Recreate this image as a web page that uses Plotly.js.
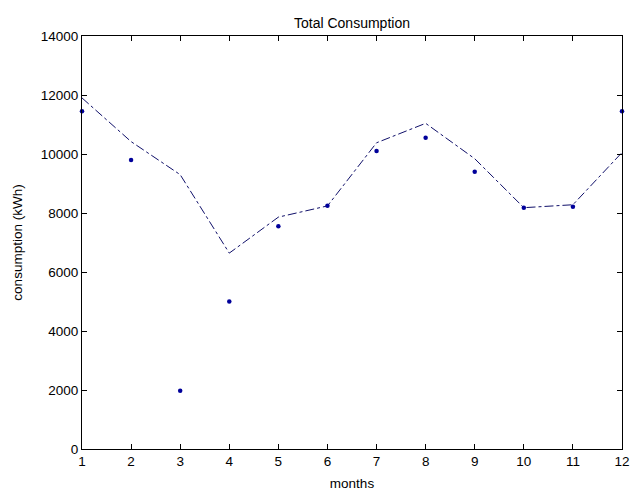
<!DOCTYPE html>
<html>
<head>
<meta charset="utf-8">
<script src="https://cdn.plot.ly/plotly-3.0.1.min.js"></script>
<style>html,body{margin:0;padding:0;background:#fff;}#chart{width:630px;height:491px;}</style>
</head>
<body>
<div id="chart"></div>
<script>
var months = [1, 2, 3, 4, 5, 6, 7, 8, 9, 10, 11, 12];
var measured = [11450, 9800, 1975, 5000, 7550, 8250, 10100, 10550, 9400, 8180, 8215, 11450];
var fitted = [11900, 10420, 9300, 6640, 7860, 8240, 10380, 11040, 9840, 8180, 8280, 10050];
var yTicks = [0, 2000, 4000, 6000, 8000, 10000, 12000, 14000];

var fam = 'Liberation Sans, Arial, sans-serif';

var traces = [
  {x: months, y: fitted, mode: 'lines', type: 'scatter',
   line: {color: '#10106a', width: 1, dash: 'dashdot'}, cliponaxis: false, hoverinfo: 'none'},
  {x: months, y: measured, mode: 'markers', type: 'scatter',
   marker: {color: '#00009a', size: 4.5, symbol: 'circle'}, cliponaxis: false, hoverinfo: 'none'}
];

var layout = {
  width: 630, height: 491,
  margin: {l: 82, r: 8, t: 36, b: 42},
  paper_bgcolor: '#fff', plot_bgcolor: '#fff',
  showlegend: false,
  font: {family: fam, size: 13, color: '#000'},
  title: {text: 'Total Consumption', font: {family: fam, size: 14, color: '#000'},
          x: 0.5, xref: 'paper', xanchor: 'center', y: 1, yref: 'paper', yanchor: 'bottom', pad: {b: 8}},
  xaxis: {
    range: [1, 12], tickvals: months, ticktext: months.map(String),
    ticks: 'inside', ticklen: 5, tickcolor: '#000', mirror: 'ticks',
    showline: true, linecolor: '#000', linewidth: 1, showgrid: false, zeroline: false,
    tickfont: {family: fam, size: 13.5, color: '#000'},
    title: {text: 'months', font: {family: fam, size: 13.5, color: '#000'}, standoff: 11}
  },
  yaxis: {
    range: [0, 14000], tickvals: yTicks, ticktext: yTicks.map(String),
    ticks: 'inside', ticklen: 5, tickcolor: '#000', mirror: 'ticks',
    showline: true, linecolor: '#000', linewidth: 1, showgrid: false, zeroline: false,
    tickfont: {family: fam, size: 13.5, color: '#000'},
    title: {text: 'consumption (kWh)', font: {family: fam, size: 13.5, color: '#000'}, standoff: 15}
  }
};

Plotly.newPlot('chart', traces, layout, {staticPlot: true, displayModeBar: false});
</script>
</body>
</html>
